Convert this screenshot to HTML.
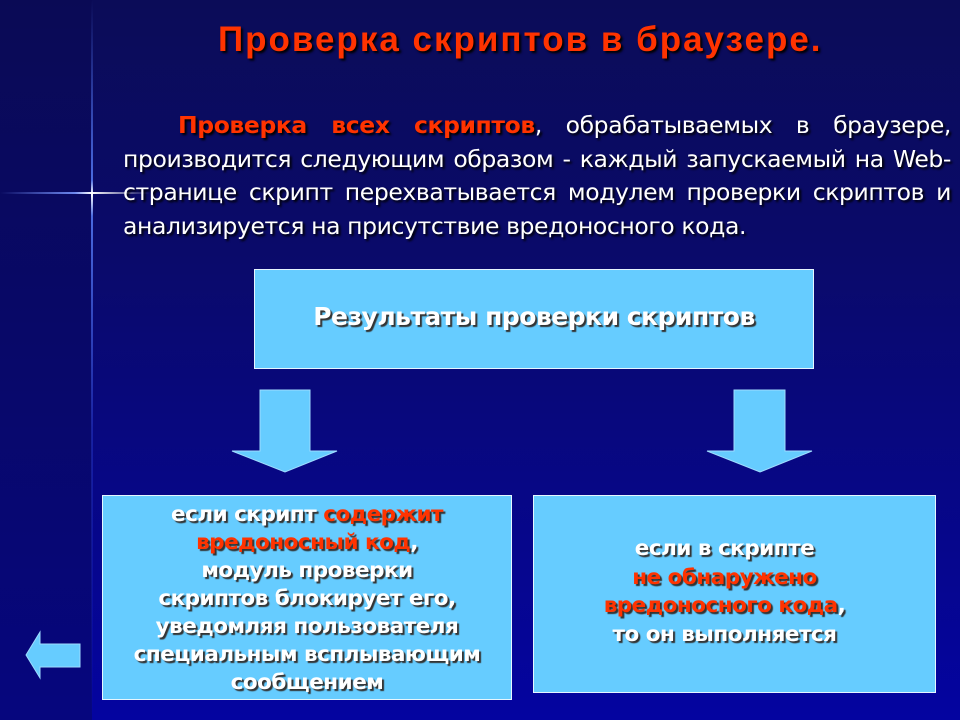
<!DOCTYPE html>
<html><head><meta charset="utf-8"><style>
*{margin:0;padding:0;box-sizing:border-box}
body{width:960px;height:720px;overflow:hidden;position:relative;font-family:"Liberation Sans","DejaVu Sans",sans-serif;
background:linear-gradient(180deg,#0b0c58 0%,#0a0a6a 35%,#0404a0 100%);}
.strip{position:absolute;left:0;top:0;width:92px;height:720px;background:linear-gradient(180deg,#0a0a55,#06067e);}
.vl{position:absolute;left:91px;top:0;width:2px;height:720px;background:linear-gradient(180deg,rgba(60,90,255,0) 0%,rgba(90,130,255,.8) 25%,#fff 27%,rgba(90,130,255,.8) 30%,rgba(60,90,255,.3) 60%,rgba(60,90,255,0) 100%);}
.hl{position:absolute;left:0;top:192px;width:150px;height:2px;background:linear-gradient(90deg,rgba(60,90,255,0),rgba(120,150,255,.9) 50%,#fff 61%,rgba(60,90,255,0));}
.title{position:absolute;left:218px;top:20px;white-space:nowrap;font-weight:bold;font-size:35px;letter-spacing:2px;color:#ff3300;text-shadow:2px 2px 2px #000;}
.para{position:absolute;left:123px;top:109px;width:828px;font-family:"DejaVu Sans",sans-serif;font-size:23.5px;line-height:33.5px;color:#fff;text-align:justify;text-indent:55px;text-shadow:2px 2px 2px #000;letter-spacing:-0.4px}
.para b{color:#ff3300}
.box{position:absolute;background:#66ccff;border:1.5px solid #e6f6ff;display:flex;align-items:center;justify-content:center;text-align:center;color:#fff;font-weight:bold;font-family:"DejaVu Sans",sans-serif;text-shadow:2px 2px 1px #333;letter-spacing:-0.5px}
.box .r{color:#ff3300}
</style></head><body>
<div class="strip"></div><div class="vl"></div><div class="hl"></div>
<div class="title">Проверка скриптов в браузере.</div>
<div class="para"><b>Проверка всех скриптов</b>, обрабатываемых в браузере, производится следующим образом - каждый запускаемый на Web-странице скрипт перехватывается модулем проверки скриптов и анализируется на присутствие вредоносного кода.</div>
<div class="box" style="left:254px;top:269px;width:560px;height:100px;font-size:25px;padding-bottom:6px;padding-right:0px">Результаты проверки скриптов</div>
<svg style="position:absolute;left:0;top:0" width="960" height="720">
<polygon points="260,390 310,390 310,451 337,451 285,472 232,451 260,451" fill="#66ccff" stroke="#9fdcff" stroke-width="1"/>
<polygon points="734,390 785,390 785,451 812,451 760,472 707,451 734,451" fill="#66ccff" stroke="#9fdcff" stroke-width="1"/>
<polygon points="80,644 80,667 40,667 40,678 26,655 40,632 40,644" fill="#66ccff" stroke="#9fdcff" stroke-width="1"/>
</svg>
<div class="box" style="left:102px;top:495px;width:410px;height:205px;font-size:21.5px;line-height:28px;padding-top:2px">
<div>если скрипт <span class="r">содержит<br>вредоносный код</span>,<br>модуль проверки<br>скриптов блокирует его,<br>уведомляя пользователя<br>специальным всплывающим<br>сообщением</div></div>
<div class="box" style="left:533px;top:495px;width:403px;height:198px;font-size:21.5px;line-height:28.5px;padding-right:20px;padding-bottom:4px">
<div>если в скрипте<br><span class="r">не обнаружено<br>вредоносного кода</span>,<br>то он выполняется</div></div>
</body></html>
